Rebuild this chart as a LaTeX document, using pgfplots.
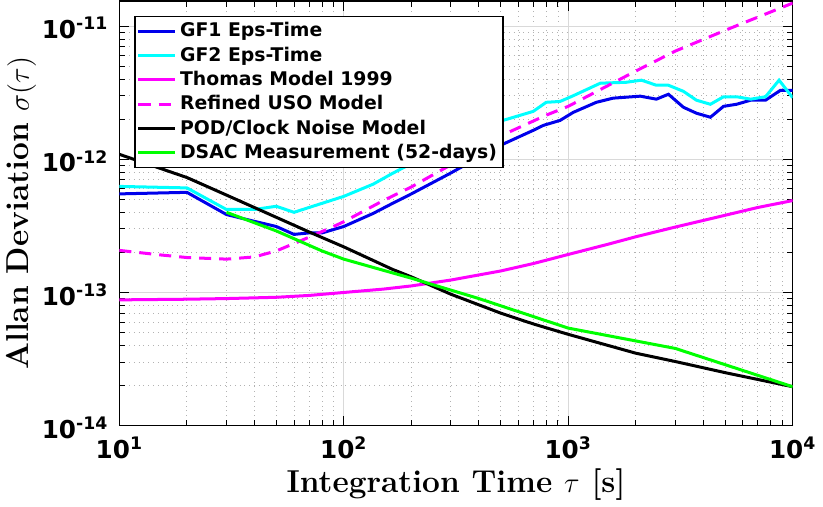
\documentclass[border=0pt]{standalone}
\usepackage{pgfplots}
\pgfplotsset{compat=1.18}
\usepackage{fontspec}
\newfontfamily\dvs{DejaVu Sans}

\definecolor{gfone}{RGB}{0,0,235}
\definecolor{gftwo}{RGB}{0,255,255}
\definecolor{mag}{RGB}{255,0,255}
\definecolor{dsac}{RGB}{0,255,0}

\begin{document}
\begin{tikzpicture}
\begin{axis}[
    scale only axis,
    width=336pt, height=212pt,
    xmode=log, ymode=log,
    log basis x=10, log basis y=10,
    xmin=10, xmax=10000,
    ymin=1e-14, ymax=1.55e-11,
    grid=both,
    major grid style={gray!30, line width=0.5pt},
    minor grid style={gray!60, dotted, line width=0.45pt},
    axis line style={line width=0.8pt},
    tick style={black, line width=0.5pt},
    major tick length=5pt, minor tick length=3pt,
    tick align=inside,
    xticklabel={\pgfmathtruncatemacro{\e}{round(\tick)}{\dvs\bfseries\fontsize{12.3}{14}\selectfont 10\textsuperscript{\e}}},
    yticklabel={\pgfmathtruncatemacro{\e}{round(\tick)}{\dvs\bfseries\fontsize{12.3}{14}\selectfont 10\textsuperscript{\e}}},
    xticklabel style={yshift=-2pt},
    yticklabel style={xshift=-2pt, yshift=-1pt},
    xlabel={\bfseries Integration Time $\tau$ [s]},
    ylabel={\bfseries Allan Deviation $\sigma(\tau)$},
    label style={font=\fontsize{15.8}{18}\selectfont},
    xlabel style={yshift=2pt},
    ylabel style={yshift=-4pt},
    legend style={at={(rel axis cs:0.022,0.965)}, anchor=north west,
        font=\dvs\bfseries\fontsize{9.4}{11}\selectfont,
        draw=black, line width=0.8pt, inner sep=1pt, row sep=-0.5pt,
        cells={anchor=west}},
    legend image code/.code={\draw[#1] plot coordinates {(0pt,0pt) (18pt,0pt)};},
    every axis plot/.append style={line width=1.5pt},
]
% GF1 Eps-Time
\addplot[gfone] coordinates {
 (10,5.5e-13) (20,5.65e-13) (30,3.85e-13) (40,3.42e-13) (50,3.13e-13)
 (60,2.73e-13) (70,2.8e-13) (80,2.8e-13) (100,3.13e-13) (135,3.92e-13)
 (165,4.67e-13) (200,5.5e-13) (300,7.9e-13) (497,1.27e-12) (698,1.65e-12)
 (776,1.8e-12) (920,1.96e-12) (1052,2.25e-12) (1334,2.68e-12) (1585,2.88e-12)
 (2094,2.98e-12) (2470,2.83e-12) (2795,3.08e-12) (3260,2.46e-12) (3725,2.22e-12)
 (4300,2.07e-12) (4920,2.5e-12) (5620,2.59e-12) (6500,2.78e-12) (7570,2.78e-12)
 (8830,3.3e-12) (10000,3.3e-12)
};
\addlegendentry{GF1 Eps-Time}
% GF2 Eps-Time
\addplot[gftwo] coordinates {
 (10,6.26e-13) (20,6.1e-13) (30,4.2e-13) (40,4.2e-13) (50,4.44e-13)
 (60,4.0e-13) (100,5.27e-13) (135,6.5e-13) (165,7.85e-13) (200,9.3e-13)
 (300,1.3e-12) (497,1.93e-12) (698,2.29e-12) (798,2.68e-12) (920,2.72e-12)
 (1052,3.0e-12) (1390,3.73e-12) (1815,3.79e-12) (2120,3.93e-12) (2470,3.6e-12)
 (2795,3.6e-12) (3260,3.24e-12) (3725,2.78e-12) (4300,2.59e-12) (4920,2.95e-12)
 (5620,2.95e-12) (6500,2.83e-12) (7570,2.95e-12) (8700,3.93e-12) (10000,2.9e-12)
};
\addlegendentry{GF2 Eps-Time}
% Thomas Model 1999
\addplot[mag] coordinates {
 (10,8.8e-14) (20,8.9e-14) (30,9.0e-14) (50,9.2e-14) (70,9.5e-14)
 (100,1.0e-13) (150,1.06e-13) (200,1.12e-13) (300,1.24e-13) (500,1.45e-13)
 (700,1.65e-13) (1000,1.93e-13) (1500,2.3e-13) (2000,2.62e-13) (3000,3.1e-13)
 (5000,3.8e-13) (7000,4.35e-13) (10000,4.9e-13)
};
\addlegendentry{Thomas Model 1999}
% Refined USO Model
\addplot[mag, dash pattern=on 6pt off 4pt] coordinates {
 (10,2.07e-13) (15,1.92e-13) (20,1.83e-13) (30,1.78e-13) (40,1.85e-13)
 (50,2.05e-13) (60,2.33e-13) (70,2.6e-13) (90,3.13e-13) (100,3.4e-13)
 (150,4.9e-13) (200,6.2e-13) (300,9.1e-13) (500,1.5e-12) (800,2.15e-12)
 (1000,2.5e-12) (2000,4.6e-12) (3000,6.5e-12) (5000,9.3e-12) (10000,1.49e-11)
};
\addlegendentry{Refined USO Model}
% POD/Clock Noise Model
\addplot[black] coordinates {
 (10,1.09e-12) (20,7.3e-13) (30,5.39e-13) (50,3.67e-13) (70,2.85e-13)
 (100,2.2e-13) (165,1.49e-13) (200,1.31e-13) (300,9.7e-14) (500,7.0e-14)
 (700,5.8e-14) (1000,4.85e-14) (2000,3.5e-14) (3000,3.03e-14) (5000,2.5e-14)
 (10000,1.96e-14)
};
\addlegendentry{POD/Clock Noise Model}
% DSAC Measurement
\addplot[dsac] coordinates {
 (30,4.0e-13) (50,2.9e-13) (80,2.05e-13) (100,1.78e-13) (200,1.28e-13)
 (400,9.0e-14) (1000,5.4e-14) (3000,3.8e-14) (10000,1.96e-14)
};
\addlegendentry{DSAC Measurement (52-days)}
\end{axis}
\end{tikzpicture}
\end{document}
